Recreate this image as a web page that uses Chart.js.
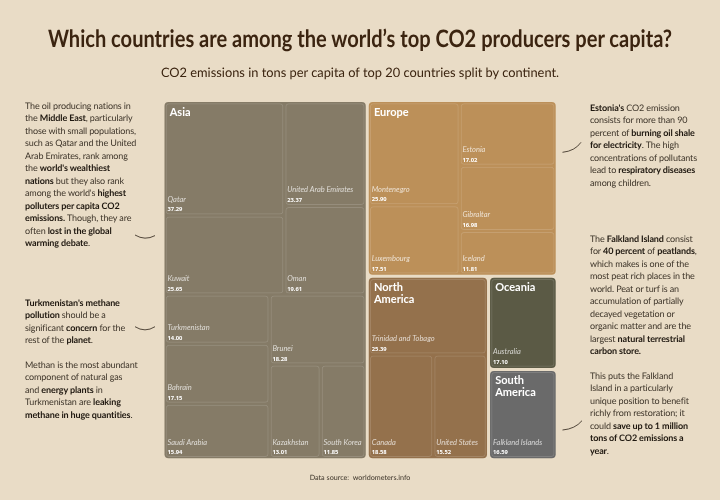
<!DOCTYPE html>
<html>
<head>
<meta charset="utf-8">
<title>CO2 per capita</title>
<script src="https://cdn.jsdelivr.net/npm/chart.js@4/dist/chart.umd.js"></script>
<style>
    html, body { margin: 0; padding: 0; background: #E9DCC6; }
    #page { position: relative; width: 720px; height: 500px; overflow: hidden; text-rendering: geometricPrecision; }
    #co2Chart { position: absolute; left: 0; top: 0; }
    h1, h2 { position: absolute; left: -100px; width: 920px; margin: 0; text-align: center; color: #3B2410; white-space: nowrap; }
    h1 { top: 24px; font: bold 24px/30px Lato, sans-serif; transform: scaleX(0.836); }
    h2 { top: 63px; font: normal 13px/18px Lato, sans-serif; transform: scaleX(0.987); }
    .note {
        position: absolute;
        margin: 0;
        font: 9px/12.45px Lato, sans-serif;
        letter-spacing: -0.12px;
        color: #3d3429;
        white-space: nowrap;
    }
    .note b { color: #1e170f; font-weight: 700; }
    #source { position: absolute; left: 0; width: 720px; top: 472.5px; text-align: center; font: 7.2px Lato, sans-serif; color: #3d3429; white-space: pre; }
    #curves { position: absolute; left: 0; top: 0; }
    #curves path { fill: none; stroke: #2b2116; stroke-width: 0.8; }
</style>
</head>
<body>
<div id="page">
    <canvas id="co2Chart" width="720" height="500"></canvas>
    <h1>Which countries are among the world’s top CO2 producers per capita?</h1>
    <h2>CO2 emissions in tons per capita of top 20 countries split by continent.</h2>
    <p class="note" style="left:25px;top:100px">The oil producing nations in<br>the <b>Middle East</b>, particularly<br>those with small populations,<br>such as Qatar and the United<br>Arab Emirates, rank among<br>the <b>world's wealthiest</b><br><b>nations</b> but they also rank<br>among the world's <b>highest</b><br><b>polluters per capita CO2</b><br><b>emissions.</b> Though, they are<br>often <b>lost in the global</b><br><b>warming debate</b>.</p>
    <p class="note" style="left:25px;top:297px"><b>Turkmenistan's methane</b><br><b>pollution</b> should be a<br>significant <b>concern</b> for the<br>rest of the <b>planet</b>.</p>
    <p class="note" style="left:25px;top:359px">Methan is the most abundant<br>component of natural gas<br>and <b>energy plants</b> in<br>Turkmenistan are <b>leaking</b><br><b>methane in huge quantities</b>.</p>
    <p class="note" style="left:590px;top:102px"><b>Estonia's</b> CO2 emission<br>consists for more than 90<br>percent of <b>burning oil shale</b><br><b>for electricity</b>. The high<br>concentrations of pollutants<br>lead to <b>respiratory diseases</b><br>among children.</p>
    <p class="note" style="left:590px;top:233px">The <b>Falkland Island</b> consist<br>for <b>40 percent</b> of <b>peatlands</b>,<br>which makes is one of the<br>most peat rich places in the<br>world. Peat or turf is an<br>accumulation of partially<br>decayed vegetation or<br>organic matter and are the<br>largest <b>natural terrestrial</b><br><b>carbon store.</b></p>
    <p class="note" style="left:590px;top:370px">This puts the Falkland<br>Island in a particularly<br>unique position to benefit<br>richly from restoration; it<br>could <b>save up to 1 million</b><br><b>tons of CO2 emissions a</b><br><b>year</b>.</p>
    <div id="source">Data source:  worldometers.info</div>
    <svg id="curves" width="720" height="500">
        <path d="M135 235 Q145 241 155 235.6"/>
        <path d="M135 326.7 Q145 333 155 326.7"/>
        <path d="M562.5 152.3 Q575 151 581 142.3"/>
        <path d="M562.5 430 Q575 429 582 420.7"/>
    </svg>
</div>
<script>
const countries = ['Qatar', 'United Arab Emirates', 'Kuwait', 'Oman', 'Turkmenistan', 'Brunei', 'Bahrain', 'Saudi Arabia', 'Kazakhstan', 'South Korea',
    'Montenegro', 'Estonia', 'Gibraltar', 'Luxembourg', 'Iceland',
    'Trinidad and Tobago', 'Canada', 'United States',
    'Australia', 'Falkland Islands'];
const emissions = [37.29, 23.37, 25.65, 19.61, 14.00, 18.28, 17.15, 15.94, 13.01, 11.85,
    25.90, 17.02, 16.98, 17.51, 11.81,
    25.39, 18.58, 15.52,
    17.10, 16.59];
const continentOf = [0, 0, 0, 0, 0, 0, 0, 0, 0, 0, 1, 1, 1, 1, 1, 2, 2, 2, 3, 4];
const continentLabels = [['Asia'], ['Europe'], ['North', 'America'], ['Oceania'], ['South', 'America']];
const continentColors = ['#857B67', '#BC9059', '#94714C', '#5B5A45', '#6A6A6A'];

// how the picture nests the countries: 'x' splits side by side, 'y' stacks
const splitTree = ['x',
    ['y',
        ['x', ['y', 'Qatar', 'Kuwait'], ['y', 'United Arab Emirates', 'Oman']],
        ['x', ['y', 'Turkmenistan', 'Bahrain', 'Saudi Arabia'], ['y', 'Brunei', ['x', 'Kazakhstan', 'South Korea']]]],
    ['y',
        ['x', ['y', 'Montenegro', 'Luxembourg'], ['y', 'Estonia', 'Gibraltar', 'Iceland']],
        ['x',
            ['y', 'Trinidad and Tobago', ['x', 'Canada', 'United States']],
            ['y', 'Australia', 'Falkland Islands']]]];

function nodeValue(node) {
    if (typeof node === 'string') return emissions[countries.indexOf(node)];
    return node.slice(1).reduce((sum, kid) => sum + nodeValue(kid), 0);
}

// areas come from the values, rects are in 0..1 units of the two scales
function layoutNode(node, box, out) {
    if (typeof node === 'string') {
        out[countries.indexOf(node)] = box;
        return;
    }
    const kids = node.slice(1);
    const total = nodeValue(node);
    let done = 0;
    kids.forEach((kid, i) => {
        const from = done / total;
        done += nodeValue(kid);
        const to = done / total;
        if (node[0] === 'x') {
            const w = box.x1 - box.x0;
            layoutNode(kid, { x0: i ? box.x0 + w * from : box.x0, x1: i === kids.length - 1 ? box.x1 : box.x0 + w * to, y0: box.y0, y1: box.y1 }, out);
        } else {
            const h = box.y1 - box.y0;
            layoutNode(kid, { x0: box.x0, x1: box.x1, y0: i ? box.y0 + h * from : box.y0, y1: i === kids.length - 1 ? box.y1 : box.y0 + h * to }, out);
        }
    });
}

const cellBoxes = [];
layoutNode(splitTree, { x0: 0, x1: 1, y0: 0, y1: 1 }, cellBoxes);

const groupBoxes = continentLabels.map((_, c) => {
    const boxes = cellBoxes.filter((_, i) => continentOf[i] === c);
    return {
        x0: Math.min(...boxes.map(b => b.x0)),
        x1: Math.max(...boxes.map(b => b.x1)),
        y0: Math.min(...boxes.map(b => b.y0)),
        y1: Math.max(...boxes.map(b => b.y1))
    };
});

const cellData = cellBoxes.map((b, i) => ({ ...b, group: groupBoxes[continentOf[i]] }));

// small controller so the rects are real chart elements placed through the scales
class TreemapController extends Chart.DatasetController {
    update(mode) {
        const meta = this._cachedMeta;
        this.updateElements(meta.data, 0, meta.data.length, mode);
    }

    updateElements(rects, start, count, mode) {
        const { xScale, yScale } = this._cachedMeta;
        const dataset = this.getDataset();
        const edge = dataset.edgeInset;
        const inner = dataset.innerInset;
        for (let i = start; i < start + count; i++) {
            const d = dataset.data[i];
            const g = d.group || d;
            const left = xScale.getPixelForValue(d.x0) + (d.x0 === g.x0 ? edge : inner);
            const right = xScale.getPixelForValue(d.x1) - (d.x1 === g.x1 ? edge : inner);
            const top = yScale.getPixelForValue(d.y0) + (d.y0 === g.y0 ? edge : inner);
            const bottom = yScale.getPixelForValue(d.y1) - (d.y1 === g.y1 ? edge : inner);
            this.updateElement(rects[i], i, {
                x: (left + right) / 2,
                y: top,
                base: bottom,
                width: right - left,
                height: bottom - top,
                horizontal: false,
                enableBorderRadius: true,
                borderSkipped: false,
                inflateAmount: 0,
                options: this.resolveDataElementOptions(i, mode)
            }, mode);
        }
    }
}
TreemapController.id = 'treemap';
TreemapController.defaults = { datasetElementType: false, dataElementType: 'bar' };
Chart.register(TreemapController);

const labelPlugin = {
    id: 'treemapLabels',
    afterDatasetsDraw(chart) {
        const ctx = chart.ctx;
        ctx.save();
        ctx.textBaseline = 'middle';
        ctx.textAlign = 'left';

        chart.getDatasetMeta(1).data.forEach((rect, i) => {
            const x = rect.x - rect.width / 2 + 1.8;
            ctx.font = 'italic 7.5px Lato, sans-serif';
            ctx.fillStyle = 'rgba(255,255,255,0.72)';
            ctx.fillText(countries[i], x, rect.base - 15);
            ctx.font = 'bold 5.8px "Noto Sans", sans-serif';
            ctx.fillStyle = '#ffffff';
            ctx.fillText(emissions[i].toFixed(2), x, rect.base - 4.6);
        });

        chart.getDatasetMeta(0).data.forEach((rect, c) => {
            const x = rect.x - rect.width / 2 + 5.2;
            ctx.font = 'bold 11px Lato, sans-serif';
            ctx.fillStyle = '#ffffff';
            continentLabels[c].forEach((line, n) => {
                ctx.fillText(line, x, rect.y + 10 + n * 11.6);
            });
        });
        ctx.restore();
    }
};

new Chart(document.getElementById('co2Chart').getContext('2d'), {
    type: 'treemap',
    data: {
        datasets: [
            {
                data: groupBoxes,
                parsing: false,
                order: 1,
                edgeInset: 1.5,
                innerInset: 1.5,
                backgroundColor: continentColors,
                borderWidth: 0,
                borderRadius: 4
            },
            {
                data: cellData,
                parsing: false,
                order: 0,
                edgeInset: 2.7,
                innerInset: 1,
                backgroundColor: 'rgba(0,0,0,0)',
                borderColor: 'rgba(255,255,255,0.14)',
                borderWidth: 1,
                borderRadius: 3.5
            }
        ]
    },
    options: {
        responsive: false,
        animation: false,
        layout: { padding: { left: 163, right: 162.8, top: 100.5, bottom: 40.2 } },
        scales: {
            x: { type: 'linear', min: 0, max: 1, display: false },
            y: { type: 'linear', min: 0, max: 1, reverse: true, display: false }
        },
        plugins: {
            legend: { display: false },
            tooltip: { enabled: false }
        }
    },
    plugins: [labelPlugin]
});
</script>
</body>
</html>
